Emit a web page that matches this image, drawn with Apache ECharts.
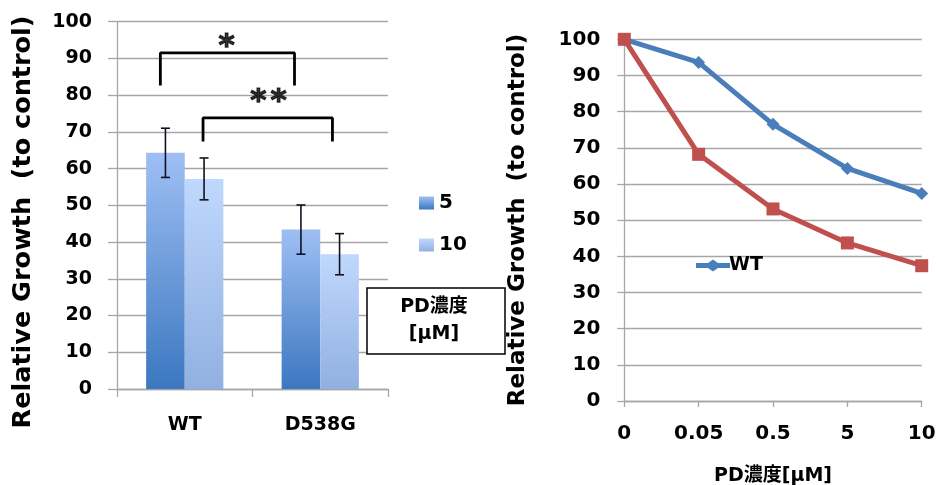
<!DOCTYPE html>
<html><head><meta charset="utf-8">
<script src="https://cdn.jsdelivr.net/npm/echarts@6/dist/echarts.min.js"></script>
<style>html,body{margin:0;padding:0;background:#fff}#c{width:936px;height:485px}</style>
</head><body><div id="c"></div>
<script>
// ---- data ----
var barCategories = ['WT', 'D538G'];
var growth5 = [64.3, 43.4];
var growth10 = [57.2, 36.7];
var err5 = [6.7, 6.7];
var err10 = [5.7, 5.6];
var yTicks = [0, 10, 20, 30, 40, 50, 60, 70, 80, 90, 100];
var bracketStar1 = [[0.32, 82.6], [0.32, 91.5], [1.31, 91.5], [1.31, 82.6]];
var bracketStar2 = [[0.635, 67.4], [0.635, 73.8], [1.59, 73.8], [1.59, 67.4]];
var starLabels = [[0.809, 94.8], [1.044, 79.8], [1.192, 79.8]];
var doseCategories = ['0', '0.05', '0.5', '5', '10'];
var wtGrowth = [100, 93.6, 76.5, 64.3, 57.4];
var mutGrowth = [100, 68.2, 53.1, 43.7, 37.4];

var FONT = "'DejaVu Sans', 'Noto Sans CJK JP', sans-serif";
var GRID_C = '#a6a6a6';
var grad5 = new echarts.graphic.LinearGradient(0, 0, 0, 1, [{offset: 0, color: '#9fbff4'}, {offset: 1, color: '#3b77c0'}]);
var grad10 = new echarts.graphic.LinearGradient(0, 0, 0, 1, [{offset: 0, color: '#bfd8fd'}, {offset: 1, color: '#91b0e1'}]);
var BAR_FRAC = 0.285;

function errItem(sign) {
  return function (params, api) {
    var p = api.coord([api.value(0), api.value(1)]);
    var bw = api.size([1, 0])[0] * BAR_FRAC;
    var x = p[0] + sign * bw / 2;
    var e = api.size([0, api.value(2)])[1];
    var top = p[1] - e, bot = p[1] + e, cap = 4.5;
    var st = {stroke: '#111122', lineWidth: 1.6};
    return {type: 'group', children: [
      {type: 'line', shape: {x1: x, y1: top, x2: x, y2: bot}, style: st},
      {type: 'line', shape: {x1: x - cap, y1: top, x2: x + cap, y2: top}, style: st},
      {type: 'line', shape: {x1: x - cap, y1: bot, x2: x + cap, y2: bot}, style: st}
    ]};
  };
}

var chart = echarts.init(document.getElementById('c'));
chart.setOption({
  animation: false,
  backgroundColor: '#fff',
  grid: [
    {left: 117, top: 21.7, width: 271, height: 367.3, outerBoundsMode: 'none', containLabel: false},
    {left: 624.3, top: 39.3, width: 297.4, height: 361.7, outerBoundsMode: 'none', containLabel: false}
  ],
  xAxis: [
    {gridIndex: 0, type: 'category', data: barCategories,
     axisLine: {lineStyle: {color: GRID_C, width: 1.3}},
     axisTick: {show: true, length: 8, lineStyle: {color: GRID_C, width: 1.3}},
     axisLabel: {color: '#000', fontFamily: FONT, fontWeight: 'bold', fontSize: 19, margin: 27}},
    {gridIndex: 0, type: 'value', min: 0, max: 2, show: false},
    {gridIndex: 1, type: 'category', data: doseCategories, boundaryGap: false,
     axisLine: {lineStyle: {color: GRID_C, width: 1.3}},
     axisTick: {show: true, length: 6, alignWithLabel: true, lineStyle: {color: GRID_C, width: 1.3}},
     axisLabel: {color: '#000', fontFamily: FONT, fontWeight: 'bold', fontSize: 20, margin: 23},
     name: 'PD濃度[μM]', nameLocation: 'middle', nameGap: 66,
     nameTextStyle: {color: '#000', fontFamily: FONT, fontWeight: 'bold', fontSize: 19}}
  ],
  yAxis: [
    {gridIndex: 0, type: 'value', min: 0, max: 100, interval: 10,
     axisLine: {show: true, lineStyle: {color: GRID_C, width: 1.3}},
     axisTick: {show: true, length: 9, lineStyle: {color: GRID_C, width: 1.3}},
     splitLine: {lineStyle: {color: GRID_C, width: 1.3}},
     axisLabel: {color: '#000', fontFamily: FONT, fontWeight: 'bold', fontSize: 19, margin: 25}},
    {gridIndex: 1, type: 'value', min: 0, max: 100, interval: 10,
     axisLine: {show: true, lineStyle: {color: GRID_C, width: 1.3}},
     axisTick: {show: true, length: 7, lineStyle: {color: GRID_C, width: 1.3}},
     splitLine: {lineStyle: {color: GRID_C, width: 1.3}},
     axisLabel: {color: '#000', fontFamily: FONT, fontWeight: 'bold', fontSize: 20, margin: 24}}
  ],
  legend: [
    {data: ['5', '10'], orient: 'vertical', left: 414, top: 188, itemGap: 22, itemWidth: 15, itemHeight: 13,
     icon: 'rect', textStyle: {color: '#000', fontFamily: FONT, fontWeight: 'bold', fontSize: 20}},
    {data: [{name: 'WT', icon: 'path://M0,3.5L12,3.5L17,0L22,3.5L34,3.5L34,8.5L22,8.5L17,12L12,8.5L0,8.5Z'}],
     left: 691, top: 251, itemWidth: 34, itemHeight: 12,
     textStyle: {color: '#000', fontFamily: FONT, fontWeight: 'bold', fontSize: 19, padding: [0, 0, 0, -6]}}
  ],
  graphic: [
    {type: 'text', x: 23, y: 222, rotation: Math.PI / 2,
     style: {text: 'Relative Growth  (to control)', font: 'bold 25.5px ' + FONT, fill: '#000', align: 'center', verticalAlign: 'middle'}},
    {type: 'text', x: 518, y: 220, rotation: Math.PI / 2,
     style: {text: 'Relative Growth  (to control)', font: 'bold 23px ' + FONT, fill: '#000', align: 'center', verticalAlign: 'middle'}},
    {type: 'rect', shape: {x: 367, y: 288, width: 138, height: 66},
     style: {fill: '#fff', stroke: '#000', lineWidth: 1.5}, z: 10},
    {type: 'text', x: 434, y: 307, z: 11,
     style: {text: 'PD濃度', font: 'bold 19px ' + FONT, fill: '#000', align: 'center', verticalAlign: 'middle'}},
    {type: 'text', x: 434, y: 334, z: 11,
     style: {text: '[μM]', font: 'bold 19px ' + FONT, fill: '#000', align: 'center', verticalAlign: 'middle'}}
  ],
  series: [
    {name: '5', type: 'bar', xAxisIndex: 0, yAxisIndex: 0, data: growth5, barWidth: (BAR_FRAC * 100) + '%', barGap: '0%',
     itemStyle: {color: grad5}},
    {name: '10', type: 'bar', xAxisIndex: 0, yAxisIndex: 0, data: growth10, barWidth: (BAR_FRAC * 100) + '%', barGap: '0%',
     itemStyle: {color: grad10}},
    {name: 'err5', type: 'custom', xAxisIndex: 0, yAxisIndex: 0, renderItem: errItem(-1), z: 5,
     data: growth5.map(function (v, i) { return [i, v, err5[i]]; })},
    {name: 'err10', type: 'custom', xAxisIndex: 0, yAxisIndex: 0, renderItem: errItem(1), z: 5,
     data: growth10.map(function (v, i) { return [i, v, err10[i]]; })},
    {name: 'b1', type: 'line', xAxisIndex: 1, yAxisIndex: 0, data: bracketStar1, symbol: 'none',
     lineStyle: {color: '#000', width: 2.8}, z: 6},
    {name: 'b2', type: 'line', xAxisIndex: 1, yAxisIndex: 0, data: bracketStar2, symbol: 'none',
     lineStyle: {color: '#000', width: 2.8}, z: 6},
    {name: 'stars', type: 'scatter', xAxisIndex: 1, yAxisIndex: 0, symbolSize: 0, data: starLabels,
     label: {show: true, position: 'inside', formatter: '*', offset: [0, 6], color: '#000',
             fontFamily: FONT, fontWeight: 'bold', fontSize: 31, textBorderColor: '#000', textBorderWidth: 1.2}},
    {name: 'WT', type: 'line', xAxisIndex: 2, yAxisIndex: 1, data: wtGrowth, symbol: 'diamond', symbolSize: 13,
     color: '#4a7ebb', lineStyle: {color: '#4a7ebb', width: 5}, itemStyle: {color: '#4a7ebb'}},
    {name: 'D538G', type: 'line', xAxisIndex: 2, yAxisIndex: 1, data: mutGrowth, symbol: 'rect', symbolSize: 13,
     color: '#c0504d', lineStyle: {color: '#c0504d', width: 5}, itemStyle: {color: '#c0504d'}}
  ]
});
</script></body></html>
